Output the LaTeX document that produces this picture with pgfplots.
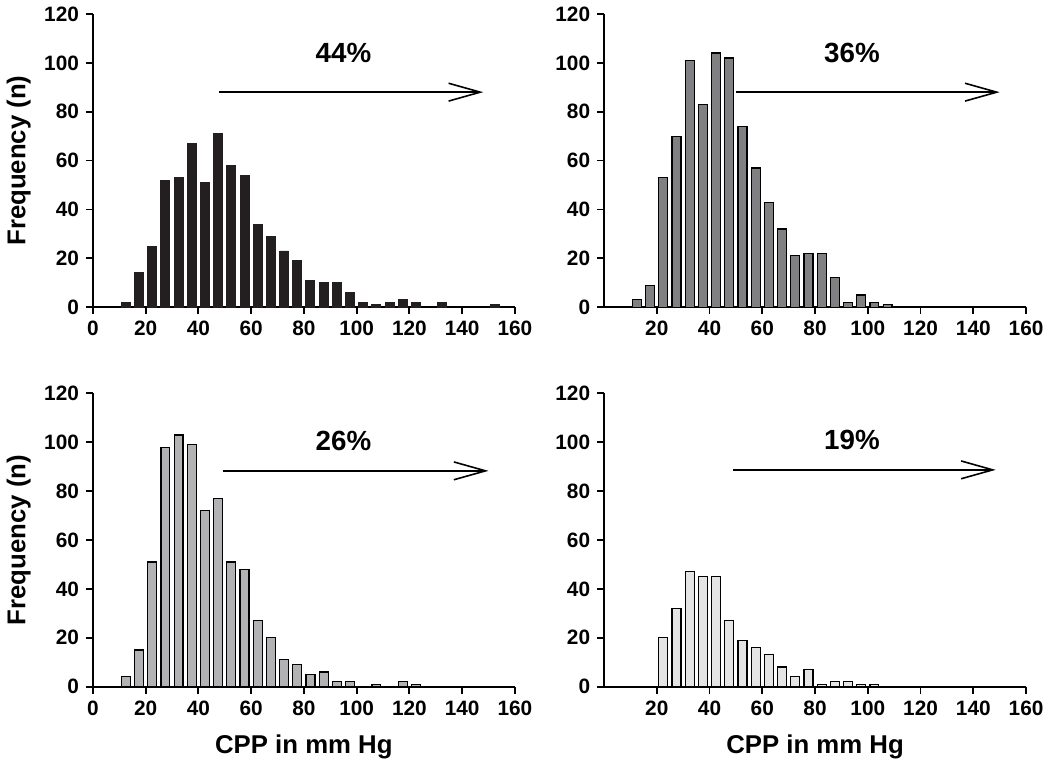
\documentclass[border=0pt]{standalone}
\usepackage{fontspec}
\setmainfont{Liberation Sans}
\usepackage{pgfplots}
\usepackage{pgfplotstable}
\pgfplotsset{compat=1.18}
\usetikzlibrary{arrows.meta}

\definecolor{barA}{RGB}{35,31,32}
\definecolor{barB}{RGB}{128,128,130}
\definecolor{barC}{RGB}{178,178,180}
\definecolor{barD}{RGB}{228,228,228}

% CPP bins (5 mm Hg wide, centred), counts
\pgfplotstableread{
x y
12.5 2
17.5 14
22.5 25
27.5 52
32.5 53
37.5 67
42.5 51
47.5 71
52.5 58
57.5 54
62.5 34
67.5 29
72.5 23
77.5 19
82.5 11
87.5 10
92.5 10
97.5 6
102.5 2
107.5 1
112.5 2
117.5 3
122.5 2
132.5 2
152.5 1
}\dataA
\pgfplotstableread{
x y
12.5 3
17.5 9
22.5 53
27.5 70
32.5 101
37.5 83
42.5 104
47.5 102
52.5 74
57.5 57
62.5 43
67.5 32
72.5 21
77.5 22
82.5 22
87.5 12
92.5 2
97.5 5
102.5 2
107.5 1
}\dataB
\pgfplotstableread{
x y
12.5 4
17.5 15
22.5 51
27.5 98
32.5 103
37.5 99
42.5 72
47.5 77
52.5 51
57.5 48
62.5 27
67.5 20
72.5 11
77.5 9
82.5 5
87.5 6
92.5 2
97.5 2
107.5 1
117.5 2
122.5 1
}\dataC
\pgfplotstableread{
x y
22.5 20
27.5 32
32.5 47
37.5 45
42.5 45
47.5 27
52.5 19
57.5 16
62.5 13
67.5 8
72.5 4
77.5 7
82.5 1
87.5 2
92.5 2
97.5 1
102.5 1
}\dataD

\pgfplotsset{
    cpp/.style={
        scale only axis,
        width=213pt, height=148pt,
        xmin=0, xmax=160, ymin=0, ymax=120,
        axis lines*=left,
        axis line style={line width=1pt, -},
        tick align=outside,
        major tick length=3.5pt,
        tick style={line width=0.9pt, black},
        ytick={0,20,...,120},
        xtick={0,20,...,160},
        tick label style={font=\bfseries\fontsize{10.5}{12}\selectfont},
        /pgf/number format/assume math mode=true,
        label style={font=\bfseries\fontsize{13}{15}\selectfont},
        xlabel style={yshift=-3pt},
        ybar, bar width=3.4,
        clip=false,
    },
}
\tikzset{
    pct/.style={font=\bfseries\fontsize{14}{16}\selectfont},
    arr/.style={line width=0.8pt, -{Straight Barb[length=16pt, width=9pt, line width=0.8pt]}},
}

\begin{document}
\begin{tikzpicture}
% top left
\begin{axis}[cpp, at={(44pt,231pt)}, anchor=south west, ylabel={Frequency (n)}]
    \addplot[fill=barA, draw=barA, line width=0.5pt] table {\dataA};
    \node[pct] at (axis cs:95,104) {44\%};
    \draw[arr] (axis cs:47.7,88) -- (axis cs:148,88);
\end{axis}
% top right
\begin{axis}[cpp, at={(302pt,231pt)}, anchor=south west, xtick={20,40,...,160}]
    \addplot[fill=barB, draw=black, line width=0.6pt] table {\dataB};
    \node[pct] at (axis cs:94,104) {36\%};
    \draw[arr] (axis cs:50,88) -- (axis cs:150,88);
\end{axis}
% bottom left
\begin{axis}[cpp, at={(44pt,39.5pt)}, anchor=south west, ylabel={Frequency (n)}, xlabel={CPP in mm Hg}]
    \addplot[fill=barC, draw=black, line width=0.6pt] table {\dataC};
    \node[pct] at (axis cs:95,100.5) {26\%};
    \draw[arr] (axis cs:49.2,88.3) -- (axis cs:150,88.3);
\end{axis}
% bottom right
\begin{axis}[cpp, at={(302pt,39.5pt)}, anchor=south west, xtick={20,40,...,160}, xlabel={CPP in mm Hg}]
    \addplot[fill=barD, draw=black, line width=0.6pt] table {\dataD};
    \node[pct] at (axis cs:94,101) {19\%};
    \draw[arr] (axis cs:49,88.7) -- (axis cs:148.5,88.7);
\end{axis}
\end{tikzpicture}
\end{document}
